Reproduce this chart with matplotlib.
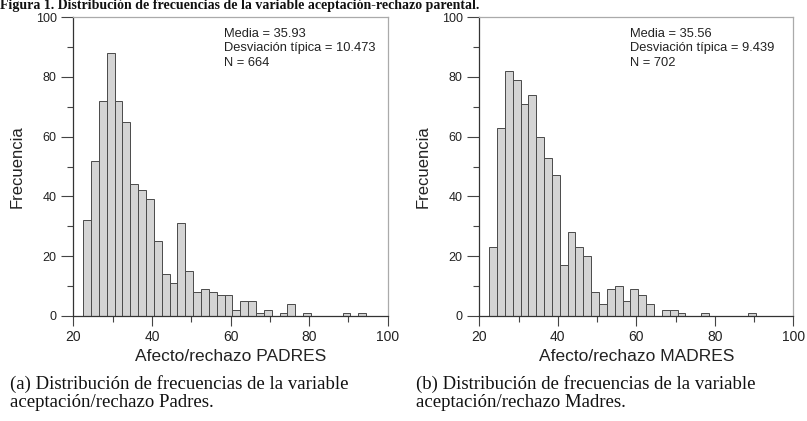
import matplotlib
matplotlib.use("Agg")
import matplotlib.pyplot as plt
from matplotlib.ticker import MultipleLocator
import numpy as np

# histogram bins: width 2, first bin starts at 22.5
BIN_START = 22.5
BIN_WIDTH = 2

padres_counts = [32, 52, 72, 88, 72, 65, 44, 42, 39, 25, 14, 11, 31, 15, 8, 9,
                 8, 7, 7, 2, 5, 5, 1, 2, 0, 1, 4, 0, 1, 0, 0, 0, 0, 1, 0, 1]
madres_counts = [23, 63, 82, 79, 71, 74, 60, 53, 47, 17, 28, 23, 20, 8, 4, 9,
                 10, 5, 9, 7, 4, 0, 2, 2, 1, 0, 0, 1, 0, 0, 0, 0, 0, 1]

padres_stats = "Media = 35.93\nDesviación típica = 10.473\nN = 664"
madres_stats = "Media = 35.56\nDesviación típica = 9.439\nN = 702"

x_ticks = [20, 40, 60, 80, 100]
y_ticks = [0, 20, 40, 60, 80, 100]

header = ("Figura 1. Distribución de frecuencias de la variable "
          "aceptación-rechazo parental.")
caption_a = "(a) Distribución de frecuencias de la variable\naceptación/rechazo Padres."
caption_b = "(b) Distribución de frecuencias de la variable\naceptación/rechazo Madres."

SANS = "Liberation Sans"
SERIF = "Liberation Serif"

W, H = 807, 421
fig = plt.figure(figsize=(W / 100, H / 100), dpi=100)


def px_axes(x0, x1, y_top, y_bot):
    return fig.add_axes([x0 / W, 1 - y_bot / H, (x1 - x0) / W, (y_bot - y_top) / H])


def draw_hist(ax, counts, xlabel, stats):
    edges = BIN_START + BIN_WIDTH * np.arange(len(counts))
    ax.bar(edges, counts, width=BIN_WIDTH, align="edge", color="#d4d4d4",
           edgecolor="#4a4a4a", linewidth=0.7)
    ax.set_xlim(20, 100)
    ax.set_ylim(0, 100)
    ax.set_xticks(x_ticks)
    ax.set_yticks(y_ticks)
    ax.xaxis.set_minor_locator(MultipleLocator(10))
    ax.yaxis.set_minor_locator(MultipleLocator(10))
    ax.tick_params(axis="both", which="major", direction="out", color="#444444",
                   labelcolor="#222222", width=0.8)
    ax.tick_params(axis="x", which="major", length=7, pad=3, labelsize=10)
    ax.tick_params(axis="y", which="major", length=9, pad=3, labelsize=9)
    ax.tick_params(axis="both", which="minor", direction="out", color="#444444",
                   length=4, width=0.8)
    for lab in ax.get_xticklabels() + ax.get_yticklabels():
        lab.set_fontfamily(SANS)
    for side in ("left", "bottom"):
        ax.spines[side].set_color("#333333")
        ax.spines[side].set_linewidth(0.9)
    for side in ("top", "right"):
        ax.spines[side].set_color("#aaaaaa")
        ax.spines[side].set_linewidth(0.9)
    ax.set_xlabel(xlabel, fontsize=12.5, family=SANS, color="#222222", labelpad=4)
    ax.set_ylabel("Frecuencia", fontsize=12, family=SANS, color="#222222",
                  labelpad=8)
    ax.text(0.48, 0.965, stats, transform=ax.transAxes, ha="left", va="top",
            fontsize=9.3, family=SANS, color="#222222", linespacing=1.3)


ax1 = px_axes(73.3, 387.7, 17.3, 315.7)
draw_hist(ax1, padres_counts, "Afecto/rechazo PADRES", padres_stats)

ax2 = px_axes(479.3, 793.3, 17.3, 315.7)
draw_hist(ax2, madres_counts, "Afecto/rechazo MADRES", madres_stats)

fig.text(0 / W, 1 - 9.5 / H, header, ha="left", va="baseline", fontsize=10,
         family=SERIF, weight="bold", color="#111111")

fig.text(10 / W, 1 - 375 / H, caption_a, ha="left", va="top", fontsize=13.5,
         family=SERIF, color="#111111", linespacing=1.12)
fig.text(416 / W, 1 - 375 / H, caption_b, ha="left", va="top", fontsize=13.5,
         family=SERIF, color="#111111", linespacing=1.12)

fig.savefig("out.png", dpi=100)
